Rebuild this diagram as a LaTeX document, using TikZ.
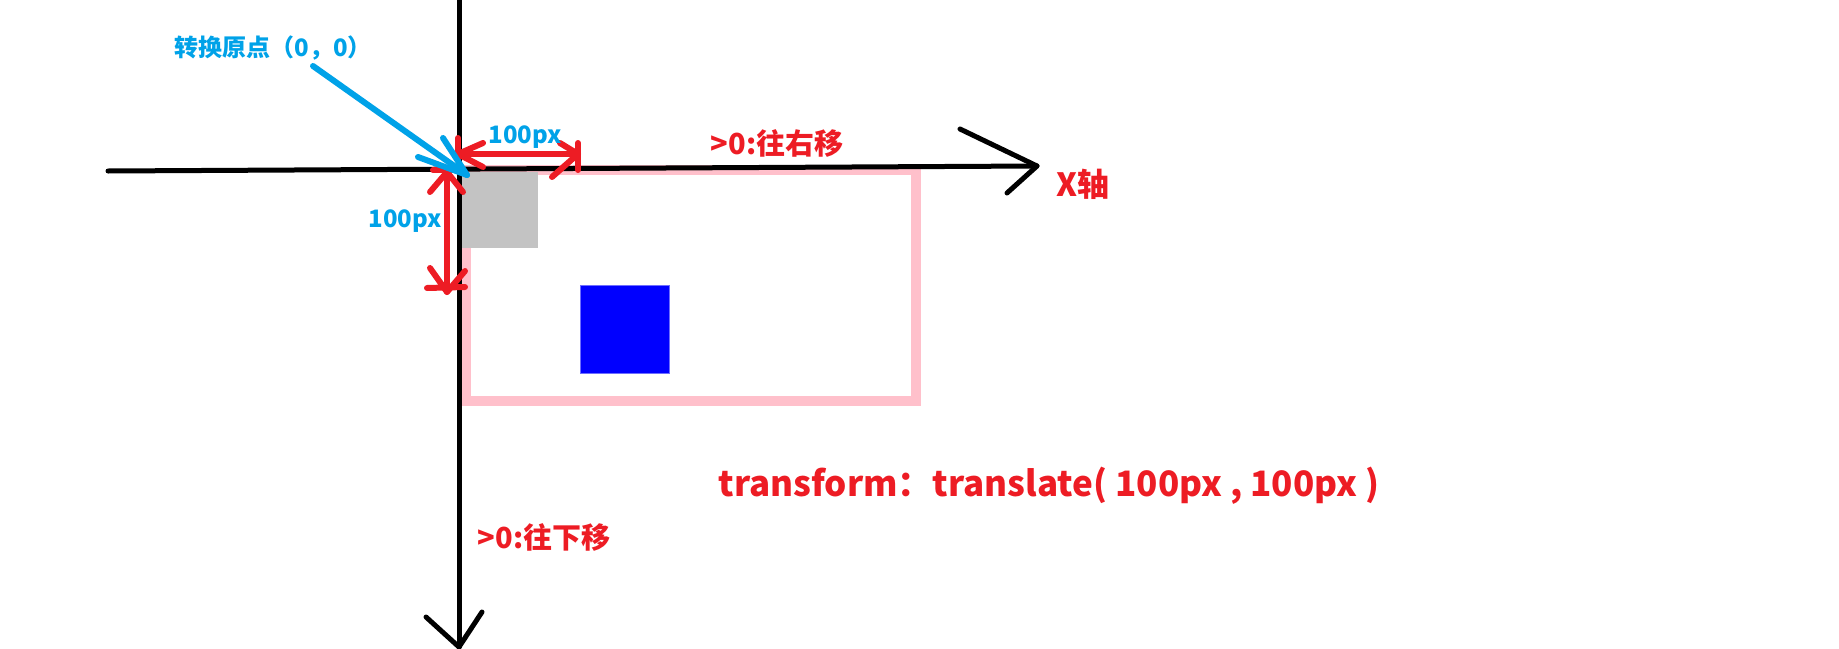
\documentclass[tikz,border=0pt]{standalone}
\usepackage{fontspec}
\newfontfamily\cjk{Noto Sans CJK SC}
\definecolor{pred}{RGB}{237,28,36}
\definecolor{pblue}{RGB}{0,162,232}
\definecolor{ppink}{RGB}{255,192,203}
\definecolor{pgray}{RGB}{195,195,195}
\definecolor{pborder}{RGB}{110,110,255}
\tikzset{
  axisline/.style={black,line width=5pt,line cap=round,line join=round},
  redline/.style={pred,line width=6pt,line cap=round,line join=round},
  blueline/.style={pblue,line width=6pt,line cap=round,line join=round},
  redtext/.style={text=pred,font=\cjk\bfseries,inner sep=0pt},
  bluetext/.style={text=pblue,font=\cjk\bfseries,inner sep=0pt},
}
\begin{document}
\begin{tikzpicture}[x=1pt,y=-1pt]
\useasboundingbox (0,0) rectangle (1839,648);
% frame and squares
\draw[ppink,line width=10pt] (466,170) rectangle (916,401);
\fill[pgray] (461,172) rectangle (538,248);
\draw[pborder,fill=blue,line width=1pt] (580,285) rectangle (669,373);
% axes
\coordinate (xs) at (108,171);
\coordinate (xe) at (1037,166);
\coordinate (ys) at (459,0);
\coordinate (ye) at (459,647);
\draw[axisline] (xs) -- (xe);
\draw[axisline] (960,129) -- (xe) -- (1007,193);
\draw[axisline] (ys) -- (ye);
\draw[axisline] (426,617) -- (ye) -- (482,612);
% red horizontal double arrow
\coordinate (hl) at (458,154);
\coordinate (hr) at (578,154);
\draw[redline] (hl) -- (hr);
\draw[redline] (483,143) -- (hl) -- (483,167);
\draw[redline] (458,138) -- (458,160);
\draw[redline] (560,143) -- (hr) -- (552,177);
\draw[redline] (578,143) -- (578,170);
% red vertical double arrow
\coordinate (vt) at (447,172);
\coordinate (vb) at (447,292);
\draw[redline] (vt) -- (vb);
\draw[redline] (430,192) -- (vt) -- (463,192);
\draw[redline] (433,170) -- (457,170);
\draw[redline] (430,268) -- (vb) -- (465,271);
\draw[redline] (427,288) -- (465,287);
% blue arrow
\coordinate (bs) at (313,66);
\coordinate (be) at (467,175);
\draw[blueline] (bs) -- (be);
\draw[blueline] (418,157) -- (be) -- (443,138);
% texts
\node[bluetext,font=\cjk\bfseries\fontsize{24}{24}\selectfont] (origin) at (273,48) {转换原点（0，0）};
\node[bluetext,font=\cjk\bfseries\fontsize{24}{24}\selectfont] (wlab) at (525,137) {100px};
\node[bluetext,font=\cjk\bfseries\fontsize{24}{24}\selectfont] (hlab) at (405,221) {100px};
\node[redtext,font=\cjk\bfseries\fontsize{29}{29}\selectfont] (xright) at (777,143) {>0:往右移};
\node[redtext,font=\cjk\bfseries\fontsize{32}{32}\selectfont] (xaxis) at (1083,184) {X轴};
\node[redtext,font=\cjk\bfseries\fontsize{29}{29}\selectfont] (ydown) at (544,537) {>0:往下移};
\node[redtext,font=\cjk\bfseries\fontsize{35}{35}\selectfont] (tr) at (1049,486) {transform：translate( 100px , 100px )};
\end{tikzpicture}
\end{document}
